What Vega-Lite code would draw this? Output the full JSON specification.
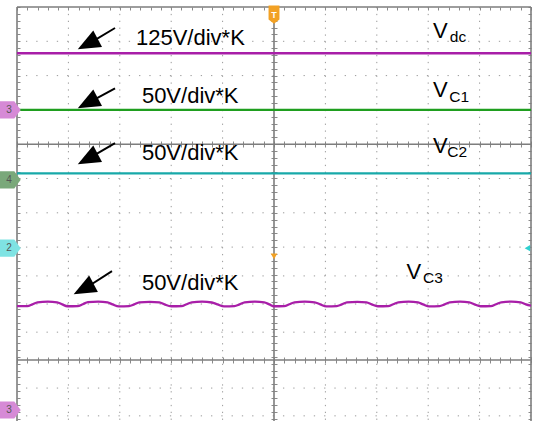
{
  "$schema": "https://vega.github.io/schema/vega-lite/v6.json",
  "width": 514,
  "height": 414,
  "autosize": "none",
  "padding": {"left": 17, "top": 7, "right": 3, "bottom": 0},
  "background": "#ffffff",
  "config": {
    "view": {"stroke": null},
    "axis": {"domain": false, "labels": false, "grid": false, "tickColor": "#8a8a8a", "tickWidth": 1, "tickSize": 3}
  },
  "datasets": {
    "vgrid": [{"gx": 1}, {"gx": 2}, {"gx": 3}, {"gx": 4}, {"gx": 6}, {"gx": 7}, {"gx": 8}, {"gx": 9}],
    "hgrid": [{"gy": 11}, {"gy": 10}, {"gy": 9}, {"gy": 7}, {"gy": 6}, {"gy": 5}, {"gy": 4.16}, {"gy": 3.34}, {"gy": 2.52}, {"gy": 0.89}, {"gy": 0.08}],
    "solidh": [{"sy": 12}, {"sy": 8}, {"sy": 1.71}],
    "solidv": [{"sx": 0}, {"sx": 5}, {"sx": 10}],
    "traces": [
      {"s": "Vdc", "t": 0, "v": 10.65}, {"s": "Vdc", "t": 10, "v": 10.65},
      {"s": "VC1", "t": 0, "v": 9.0}, {"s": "VC1", "t": 10, "v": 9.0},
      {"s": "VC2", "t": 0, "v": 7.15}, {"s": "VC2", "t": 10, "v": 7.15}
    ],
    "vc3": [
      {"t": 0, "v": 3.28}, {"t": 0.2, "v": 3.28}, {"t": 0.3, "v": 3.33}, {"t": 0.4, "v": 3.39}, {"t": 0.6, "v": 3.41}, {"t": 0.78, "v": 3.39}, {"t": 0.88, "v": 3.33},
      {"t": 0.98, "v": 3.275}, {"t": 1.18, "v": 3.28}, {"t": 1.28, "v": 3.335}, {"t": 1.38, "v": 3.395}, {"t": 1.58, "v": 3.41}, {"t": 1.76, "v": 3.385}, {"t": 1.86, "v": 3.33},
      {"t": 1.98, "v": 3.27}, {"t": 2.18, "v": 3.28}, {"t": 2.28, "v": 3.33}, {"t": 2.38, "v": 3.39}, {"t": 2.58, "v": 3.405}, {"t": 2.77, "v": 3.39}, {"t": 2.87, "v": 3.33},
      {"t": 3.0, "v": 3.275}, {"t": 3.2, "v": 3.28}, {"t": 3.3, "v": 3.335}, {"t": 3.4, "v": 3.39}, {"t": 3.6, "v": 3.41}, {"t": 3.79, "v": 3.385}, {"t": 3.9, "v": 3.33},
      {"t": 4.03, "v": 3.27}, {"t": 4.23, "v": 3.28}, {"t": 4.33, "v": 3.33}, {"t": 4.43, "v": 3.39}, {"t": 4.63, "v": 3.41}, {"t": 4.81, "v": 3.39}, {"t": 4.91, "v": 3.33},
      {"t": 5.0, "v": 3.275}, {"t": 5.2, "v": 3.28}, {"t": 5.3, "v": 3.335}, {"t": 5.4, "v": 3.39}, {"t": 5.6, "v": 3.41}, {"t": 5.79, "v": 3.39}, {"t": 5.9, "v": 3.33},
      {"t": 6.02, "v": 3.27}, {"t": 6.22, "v": 3.28}, {"t": 6.32, "v": 3.33}, {"t": 6.42, "v": 3.39}, {"t": 6.62, "v": 3.405}, {"t": 6.8, "v": 3.39}, {"t": 6.9, "v": 3.33},
      {"t": 7.02, "v": 3.275}, {"t": 7.22, "v": 3.28}, {"t": 7.32, "v": 3.335}, {"t": 7.42, "v": 3.39}, {"t": 7.62, "v": 3.41}, {"t": 7.8, "v": 3.385}, {"t": 7.9, "v": 3.33},
      {"t": 8.02, "v": 3.27}, {"t": 8.22, "v": 3.28}, {"t": 8.32, "v": 3.33}, {"t": 8.42, "v": 3.39}, {"t": 8.62, "v": 3.41}, {"t": 8.8, "v": 3.39}, {"t": 8.9, "v": 3.33},
      {"t": 9.02, "v": 3.275}, {"t": 9.22, "v": 3.28}, {"t": 9.32, "v": 3.335}, {"t": 9.42, "v": 3.39}, {"t": 9.62, "v": 3.41}, {"t": 9.8, "v": 3.39}, {"t": 9.9, "v": 3.33}, {"t": 10, "v": 3.29}
    ],
    "labels": [
      {"txt": "125V/div*K", "x": 2.315, "y": 10.88},
      {"txt": "50V/div*K", "x": 2.43, "y": 9.19},
      {"txt": "50V/div*K", "x": 2.43, "y": 7.54},
      {"txt": "50V/div*K", "x": 2.43, "y": 3.75},
      {"txt": "V", "x": 8.093, "y": 11.09},
      {"txt": "V", "x": 8.093, "y": 9.385},
      {"txt": "V", "x": 8.093, "y": 7.73},
      {"txt": "V", "x": 7.58, "y": 4.07}
    ],
    "subs": [
      {"txt": "dc", "x": 8.42, "y": 10.99},
      {"txt": "C1", "x": 8.41, "y": 9.24},
      {"txt": "C2", "x": 8.37, "y": 7.63},
      {"txt": "C3", "x": 7.9, "y": 3.95}
    ],
    "arrows": [
      {"x": 1.907, "y": 11.388, "hx": 1.44, "hy": 10.97},
      {"x": 1.907, "y": 9.63, "hx": 1.44, "hy": 9.25},
      {"x": 1.907, "y": 8.03, "hx": 1.44, "hy": 7.62},
      {"x": 1.848, "y": 4.30, "hx": 1.36, "hy": 3.83}
    ],
    "tags": [
      {"ch": "3", "x": -0.136, "y": 9.0},
      {"ch": "4", "x": -0.136, "y": 6.96},
      {"ch": "2", "x": -0.136, "y": 4.97},
      {"ch": "3", "x": -0.136, "y": 0.25}
    ]
  },
  "resolve": {"axis": {"x": "independent", "y": "independent"}},
  "layer": [
    {
      "data": {"name": "vgrid"},
      "mark": {"type": "rule", "color": "#9a9a9a", "strokeWidth": 1, "strokeDash": [1.3, 5.56]},
      "encoding": {
        "x": {"field": "gx", "type": "quantitative", "scale": {"domain": [0, 10], "nice": false, "zero": false}, "title": null,
              "axis": {"orient": "top", "offset": -137, "tickCount": 50}}
      }
    },
    {
      "data": {"name": "hgrid"},
      "mark": {"type": "rule", "color": "#9a9a9a", "strokeWidth": 1, "strokeDash": [1.3, 8.98]},
      "encoding": {
        "y": {"field": "gy", "type": "quantitative", "scale": {"domain": [-0.07, 12], "nice": false, "zero": false}, "title": null,
              "axis": {"orient": "left", "offset": -257, "tickCount": 60}}
      }
    },
    {
      "data": {"name": "solidh"},
      "mark": {"type": "rule", "color": "#7d7d7d", "strokeWidth": 1.4},
      "encoding": {
        "y": {"field": "sy", "type": "quantitative", "scale": {"domain": [-0.07, 12], "nice": false, "zero": false}, "title": null,
              "axis": {"orient": "right", "offset": -257, "tickCount": 60}}
      }
    },
    {
      "data": {"name": "solidv"},
      "mark": {"type": "rule", "color": "#7d7d7d", "strokeWidth": 1.6},
      "encoding": {
        "x": {"field": "sx", "type": "quantitative", "scale": {"domain": [0, 10], "nice": false, "zero": false}, "title": null,
              "axis": {"orient": "bottom", "offset": -277, "tickCount": 50}}
      }
    },
    {
      "data": {"name": "traces"},
      "mark": {"type": "line", "strokeWidth": 2.4},
      "encoding": {
        "x": {"field": "t", "type": "quantitative", "scale": {"domain": [0, 10], "nice": false, "zero": false}, "title": null,
              "axis": {"orient": "top", "offset": -353, "tickCount": 50}},
        "y": {"field": "v", "type": "quantitative", "scale": {"domain": [-0.07, 12], "nice": false, "zero": false}, "title": null,
              "axis": {"orient": "right", "offset": -514, "tickCount": 60}},
        "color": {"field": "s", "type": "nominal", "legend": null,
                  "scale": {"domain": ["Vdc", "VC1", "VC2"], "range": ["#a81ea8", "#1f9e1f", "#17a9a9"]}},
        "detail": {"field": "s"}
      }
    },
    {
      "data": {"name": "vc3"},
      "mark": {"type": "line", "strokeWidth": 2.3, "color": "#a81ea8", "interpolate": "monotone"},
      "encoding": {
        "x": {"field": "t", "type": "quantitative", "scale": {"domain": [0, 10], "nice": false, "zero": false}, "title": null,
              "axis": {"orient": "bottom", "offset": -61, "tickCount": 50}},
        "y": {"field": "v", "type": "quantitative", "scale": {"domain": [-0.07, 12], "nice": false, "zero": false}, "title": null,
              "axis": {"orient": "left", "offset": -514, "tickCount": 60}}
      }
    },
    {
      "data": {"name": "labels"},
      "mark": {"type": "text", "font": "Liberation Sans", "fontSize": 22, "color": "#000000", "align": "left", "baseline": "alphabetic"},
      "encoding": {
        "x": {"field": "x", "type": "quantitative", "scale": {"domain": [0, 10], "nice": false, "zero": false}, "title": null,
              "axis": {"orient": "bottom", "offset": -414, "tickCount": 50}},
        "y": {"field": "y", "type": "quantitative", "scale": {"domain": [-0.07, 12], "nice": false, "zero": false}, "title": null, "axis": null},
        "text": {"field": "txt"}
      }
    },
    {
      "data": {"name": "subs"},
      "mark": {"type": "text", "font": "Liberation Sans", "fontSize": 15.5, "color": "#000000", "align": "left", "baseline": "alphabetic"},
      "encoding": {
        "x": {"field": "x", "type": "quantitative", "scale": {"domain": [0, 10], "nice": false, "zero": false}, "axis": null},
        "y": {"field": "y", "type": "quantitative", "scale": {"domain": [-0.07, 12], "nice": false, "zero": false}, "axis": null},
        "text": {"field": "txt"}
      }
    },
    {
      "data": {"name": "arrows"},
      "mark": {"type": "rule", "color": "#000000", "strokeWidth": 2},
      "encoding": {
        "x": {"field": "x", "type": "quantitative", "scale": {"domain": [0, 10], "nice": false, "zero": false}, "axis": null},
        "y": {"field": "y", "type": "quantitative", "scale": {"domain": [-0.07, 12], "nice": false, "zero": false}, "axis": null},
        "x2": {"field": "hx"},
        "y2": {"field": "hy"}
      }
    },
    {
      "data": {"name": "arrows"},
      "mark": {"type": "point", "shape": "M0,-1L0.62,0.5L-0.62,0.5Z", "size": 900, "angle": 242, "filled": true, "color": "#000000", "opacity": 1},
      "encoding": {
        "x": {"field": "hx", "type": "quantitative", "scale": {"domain": [0, 10], "nice": false, "zero": false}, "axis": null},
        "y": {"field": "hy", "type": "quantitative", "scale": {"domain": [-0.07, 12], "nice": false, "zero": false}, "axis": null}
      }
    },
    {
      "data": {"name": "tags"},
      "mark": {"type": "point", "shape": "M-1,-0.8L0.4,-0.8L1,0L0.4,0.8L-1,0.8Z", "size": 460, "filled": true, "opacity": 1, "strokeWidth": 0},
      "encoding": {
        "x": {"field": "x", "type": "quantitative", "scale": {"domain": [0, 10], "nice": false, "zero": false}, "axis": null},
        "y": {"field": "y", "type": "quantitative", "scale": {"domain": [-0.07, 12], "nice": false, "zero": false}, "axis": null},
        "fill": {"field": "ch", "type": "nominal", "legend": null,
                 "scale": {"domain": ["2", "3", "4"], "range": ["#7fe3e3", "#d68ad6", "#7aa87a"]}}
      }
    },
    {
      "data": {"name": "tags"},
      "mark": {"type": "text", "font": "Liberation Sans", "fontSize": 10, "color": "#555555", "align": "center", "baseline": "middle", "dx": -1},
      "encoding": {
        "x": {"field": "x", "type": "quantitative", "scale": {"domain": [0, 10], "nice": false, "zero": false}, "axis": null},
        "y": {"field": "y", "type": "quantitative", "scale": {"domain": [-0.07, 12], "nice": false, "zero": false}, "axis": null},
        "text": {"field": "ch"}
      }
    },
    {
      "data": {"values": [{"x": 5, "y": 11.78}]},
      "mark": {"type": "point", "shape": "M-0.6,-1L0.6,-1L0.6,0.55L0,1L-0.6,0.55Z", "size": 330, "filled": true, "color": "#f2a124", "opacity": 1},
      "encoding": {
        "x": {"field": "x", "type": "quantitative", "scale": {"domain": [0, 10], "nice": false, "zero": false}, "axis": null},
        "y": {"field": "y", "type": "quantitative", "scale": {"domain": [-0.07, 12], "nice": false, "zero": false}, "axis": null}
      }
    },
    {
      "data": {"values": [{"x": 5, "y": 11.78, "m": "T"}]},
      "mark": {"type": "text", "font": "Liberation Sans", "fontSize": 9, "fontWeight": "bold", "color": "#ffffff", "align": "center", "baseline": "middle", "dy": 0.5},
      "encoding": {
        "x": {"field": "x", "type": "quantitative", "scale": {"domain": [0, 10], "nice": false, "zero": false}, "axis": null},
        "y": {"field": "y", "type": "quantitative", "scale": {"domain": [-0.07, 12], "nice": false, "zero": false}, "axis": null},
        "text": {"field": "m"}
      }
    },
    {
      "data": {"values": [{"x": 5, "y": 4.73}]},
      "mark": {"type": "point", "shape": "triangle-down", "size": 45, "filled": true, "color": "#f2a124", "opacity": 1},
      "encoding": {
        "x": {"field": "x", "type": "quantitative", "scale": {"domain": [0, 10], "nice": false, "zero": false}, "axis": null},
        "y": {"field": "y", "type": "quantitative", "scale": {"domain": [-0.07, 12], "nice": false, "zero": false}, "axis": null}
      }
    },
    {
      "data": {"values": [{"x": 9.93, "y": 4.97}]},
      "mark": {"type": "point", "shape": "triangle-left", "size": 40, "filled": true, "color": "#2fd0d0", "opacity": 1},
      "encoding": {
        "x": {"field": "x", "type": "quantitative", "scale": {"domain": [0, 10], "nice": false, "zero": false}, "axis": null},
        "y": {"field": "y", "type": "quantitative", "scale": {"domain": [-0.07, 12], "nice": false, "zero": false}, "axis": null}
      }
    }
  ]
}
